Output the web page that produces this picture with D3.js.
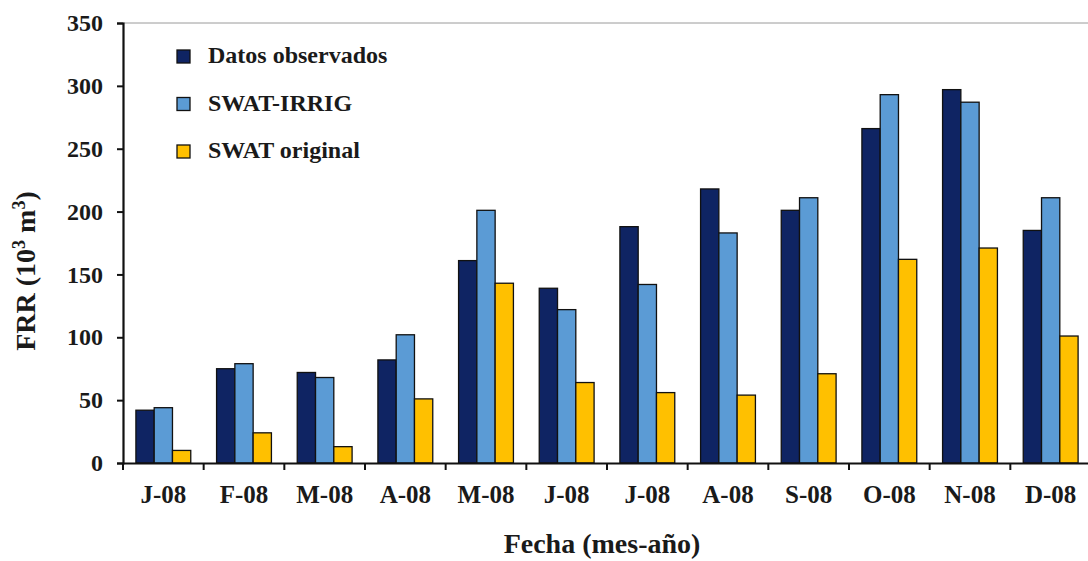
<!DOCTYPE html>
<html>
<head>
<meta charset="utf-8">
<script src="https://cdn.jsdelivr.net/npm/d3@7"></script>
<style>
  body { margin: 0; background: #fff; }
  svg text { font-family: "Liberation Serif", "Times New Roman", serif; font-weight: bold; fill: #1a1a1a; }
</style>
</head>
<body>
<svg id="chart" width="1088" height="561"></svg>
<script>
// Monthly FRR values (10^3 m^3)
const months = ["J-08", "F-08", "M-08", "A-08", "M-08", "J-08", "J-08", "A-08", "S-08", "O-08", "N-08", "D-08"];
const observed = [42, 75, 72, 82, 161, 139, 188, 218, 201, 266, 297, 185];
const swatIrrig = [44, 79, 68, 102, 201, 122, 142, 183, 211, 293, 287, 211];
const swatOriginal = [10, 24, 13, 51, 143, 64, 56, 54, 71, 162, 171, 101];
const seriesNames = ["Datos observados", "SWAT-IRRIG", "SWAT original"];
const yTicks = [0, 50, 100, 150, 200, 250, 300, 350];

const colors = ["#0f2463", "#5b9bd5", "#ffc000"];

const margin = { top: 23, left: 123 };
const width = 968, height = 440;

const svg = d3.select("#chart");
const g = svg.append("g").attr("transform", `translate(${margin.left},${margin.top})`);

// index-based band so the repeated month letters stay separate
const x = d3.scaleBand().domain(d3.range(months.length)).range([0, width]).paddingInner(0.32).paddingOuter(0.16);
const xSub = d3.scaleBand().domain([0, 1, 2]).range([0, x.bandwidth()]);
const y = d3.scaleLinear().domain([0, 350]).range([height, 0]);

const data = months.map((m, i) => [observed[i], swatIrrig[i], swatOriginal[i]]);

// top frame line
g.append("line")
  .attr("x1", 0).attr("x2", width).attr("y1", 0).attr("y2", 0)
  .attr("stroke", "#9a9a9a").attr("stroke-width", 1);

// bars
const groups = g.selectAll(".grp").data(data).join("g")
  .attr("transform", (d, i) => `translate(${x(i)},0)`);
groups.selectAll("rect").data(d => d).join("rect")
  .attr("x", (d, j) => xSub(j))
  .attr("y", d => y(d))
  .attr("width", xSub.bandwidth())
  .attr("height", d => height - y(d))
  .attr("fill", (d, j) => colors[j])
  .attr("stroke", "#111")
  .attr("stroke-width", 1.3);

// y axis
const yAxis = g.append("g")
  .call(d3.axisLeft(y).tickValues(yTicks).tickSize(6).tickPadding(14).tickFormat(d3.format("d")));
yAxis.select(".domain").attr("stroke", "#111").attr("stroke-width", 2.2);
yAxis.selectAll(".tick line").attr("stroke", "#111").attr("stroke-width", 2);
yAxis.selectAll("text").style("font-size", "24px");

// x axis: labels centred on groups, ticks between groups
const xAxis = g.append("g").attr("transform", `translate(0,${height})`)
  .call(d3.axisBottom(x).tickSize(0).tickPadding(22).tickFormat(i => months[i]));
xAxis.select(".domain").attr("stroke", "#111").attr("stroke-width", 2.2);
xAxis.selectAll("text").style("font-size", "25px");
const step = x.step();
g.append("g").selectAll("line").data(d3.range(months.length + 1)).join("line")
  .attr("x1", i => i * step).attr("x2", i => i * step)
  .attr("y1", height).attr("y2", height + 7)
  .attr("stroke", "#111").attr("stroke-width", 2);

// axis titles
svg.append("text")
  .attr("x", 602).attr("y", 553)
  .attr("text-anchor", "middle")
  .style("font-size", "28px")
  .text("Fecha (mes-año)");

const yt = svg.append("text")
  .attr("transform", "translate(35,271) rotate(-90)")
  .attr("text-anchor", "middle")
  .style("font-size", "28px");
yt.append("tspan").text("FRR (10");
yt.append("tspan").attr("dy", -10).style("font-size", "18px").text("3");
yt.append("tspan").attr("dy", 10).text(" m");
yt.append("tspan").attr("dy", -10).style("font-size", "18px").text("3");
yt.append("tspan").attr("dy", 10).text(")");

// legend
const legend = svg.append("g").attr("transform", "translate(177,50)");
const items = legend.selectAll("g").data(seriesNames).join("g")
  .attr("transform", (d, i) => `translate(0,${i * 47.5})`);
items.append("rect")
  .attr("width", 13).attr("height", 13)
  .attr("fill", (d, i) => colors[i])
  .attr("stroke", "#111").attr("stroke-width", 1.3);
items.append("text")
  .attr("x", 31).attr("y", 13)
  .style("font-size", "24px")
  .text(d => d);
</script>
</body>
</html>
